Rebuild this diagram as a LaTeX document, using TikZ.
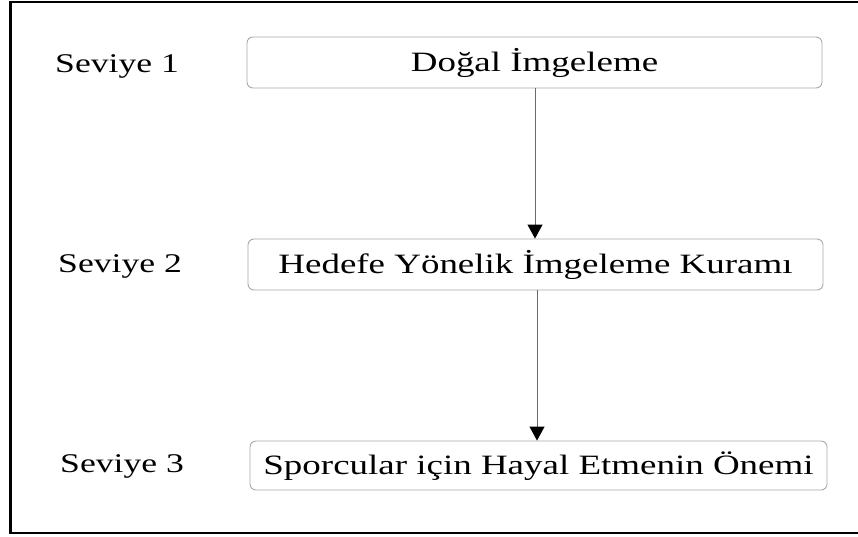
\documentclass[tikz,border=0pt]{standalone}
\usepackage{fontspec}
\setmainfont[FakeStretch=1.32]{Liberation Serif}
\usetikzlibrary{arrows.meta}
\definecolor{boxgray}{HTML}{A8A8A8}
\definecolor{linegray}{HTML}{6A6A6A}
\begin{document}
\begin{tikzpicture}[x=1pt,y=-1pt,
  levelbox/.style={draw=boxgray,line width=0.9pt,rounded corners=6pt,
    inner sep=0pt,text height=18.5pt,text depth=0pt,
    font=\fontsize{28}{30}\selectfont},
  levellabel/.style={anchor=base west,inner sep=0pt,
    font=\fontsize{27}{30}\selectfont},
  conn/.style={draw=linegray,line width=1pt,
    -{Triangle[black,width=15pt,length=14pt]}}]
\useasboundingbox (0,0) rectangle (858,536);
% outer frame (right side cut off)
\draw[line width=2.4pt] (858,2.2) -- (10.5,2.2) -- (10.5,533) -- (858,533);
% boxes
\node[levelbox,minimum width=575pt,minimum height=51pt] (b1) at (534.5,62.5) {Doğal İmgeleme};
\node[levelbox,minimum width=575pt,minimum height=51pt] (b2) at (535.5,264.5) {Hedefe Yönelik İmgeleme Kuramı};
\node[levelbox,minimum width=577pt,minimum height=49pt] (b3) at (538.5,465.5) {Sporcular için Hayal Etmenin Önemi};
% labels
\node[levellabel] (l1) at (55,72) {Seviye 1};
\node[levellabel] (l2) at (58,272) {Seviye 2};
\node[levellabel] (l3) at (60,472) {Seviye 3};
% connectors
\coordinate (a1) at ([xshift=0.5pt]b1.south);
\coordinate (a2) at ([xshift=1.5pt]b2.south);
\draw[conn] (a1) -- (a1 |- b2.north);
\draw[conn] (a2) -- (a2 |- b3.north);
\end{tikzpicture}
\end{document}
